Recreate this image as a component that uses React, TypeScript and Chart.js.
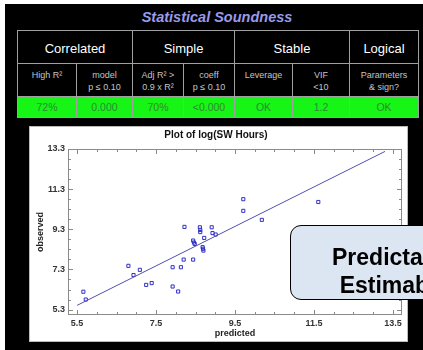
import React, { useEffect, useRef } from "react";
import { Chart, registerables } from "chart.js";

Chart.register(...registerables);

// ---------- data ----------
const panelTitle = "Statistical Soundness";
const groupHeaders = ["Correlated", "Simple", "Stable", "Logical"];
const groupSpans = [2, 2, 2, 1];
const criteria = [
  ["High R²"],
  ["model", "p ≤ 0.10"],
  ["Adj R² >", "0.9 x R²"],
  ["coeff", "p ≤ 0.10"],
  ["Leverage"],
  ["VIF", "<10"],
  ["Parameters", "& sign?"],
];
const results = ["72%", "0.000", "70%", "<0.000", "OK", "1.2", "OK"];

const plotTitle = "Plot of log(SW Hours)";
const xAxisTitle = "predicted";
const yAxisTitle = "observed";
const predicted = [5.66, 5.72, 6.8, 6.93, 7.09, 7.25, 7.39, 7.92, 7.92, 8.06, 8.13, 8.2, 8.44, 8.22, 8.44, 8.46, 8.48, 8.61, 8.62, 8.62, 8.68, 8.69, 8.7, 8.72, 8.91, 8.93, 9.01, 9.71, 9.71, 10.18, 11.61];
const observed = [6.19, 5.8, 7.48, 7.02, 7.28, 6.53, 6.62, 7.41, 6.45, 6.2, 7.41, 7.79, 7.79, 9.42, 8.74, 8.64, 8.57, 9.4, 9.27, 9.16, 8.41, 8.33, 8.24, 8.87, 9.4, 9.11, 9.04, 10.8, 10.22, 9.77, 10.66];
const fitX = [5.5, 13.3];
const fitY = [5.51, 13.18];
const xTicks = [5.5, 7.5, 9.5, 11.5, 13.5];
const yTicks = [5.3, 7.3, 9.3, 11.3, 13.3];
const minorStep = 0.5;
const calloutLines = ["Predictable", "Estimable"];

// ---------- layout ----------
const colEdges = [17, 76, 132, 183, 234, 292, 349, 418];
const rowEdges = [30, 63, 96, 117];
const FONT = '"Liberation Sans", Arial, Helvetica, sans-serif';
const GRID = "#a0a0a0";

const framePlugin = {
  id: "frameTicks",
  afterDatasetsDraw(chart: any) {
    const { ctx, chartArea: a, scales } = chart;
    const xs = scales.x;
    const ys = scales.y;
    ctx.save();
    ctx.strokeStyle = "#8a8a8a";
    ctx.lineWidth = 1;
    ctx.strokeRect(a.left + 0.5, a.top + 0.5, a.right - a.left - 1, a.bottom - a.top - 1);
    const isMajor = (v: number, majors: number[]) => majors.some((m) => Math.abs(m - v) < 1e-6);
    ctx.beginPath();
    for (let v = xTicks[0] - minorStep * 0; v <= xs.max + 1e-9; v += minorStep) {
      const len = isMajor(v, xTicks) ? 5 : 3;
      const px = Math.round(xs.getPixelForValue(v)) + 0.5;
      ctx.moveTo(px, a.bottom);
      ctx.lineTo(px, a.bottom - len);
      ctx.moveTo(px, a.top);
      ctx.lineTo(px, a.top + len);
    }
    for (let v = yTicks[0]; v <= ys.max + 1e-9; v += minorStep) {
      const len = isMajor(v, yTicks) ? 5 : 3;
      const py = Math.round(ys.getPixelForValue(v)) + 0.5;
      ctx.moveTo(a.left, py);
      ctx.lineTo(a.left + len, py);
      ctx.moveTo(a.right, py);
      ctx.lineTo(a.right - len, py);
    }
    ctx.stroke();
    ctx.restore();
  },
};

function ScatterPlot() {
  const ref = useRef<HTMLCanvasElement | null>(null);
  useEffect(() => {
    if (!ref.current) return;
    const chart = new Chart(ref.current, {
      type: "scatter",
      data: {
        datasets: [
          {
            type: "line",
            data: fitX.map((x, i) => ({ x, y: fitY[i] })),
            borderColor: "#5050a8",
            borderWidth: 1,
            pointRadius: 0,
            fill: false,
          } as any,
          {
            data: predicted.map((x, i) => ({ x, y: observed[i] })),
            pointStyle: "rect",
            pointRadius: 2.2,
            borderWidth: 1,
            borderColor: "#3030c8",
            backgroundColor: "rgba(0,0,0,0)",
          },
        ],
      },
      options: {
        animation: false,
        responsive: false,
        layout: { padding: { top: 0, right: 5, left: 0, bottom: 0 } },
        plugins: {
          legend: { display: false },
          tooltip: { enabled: false },
          title: {
            display: true,
            text: plotTitle,
            color: "#111",
            font: { family: FONT, size: 10, weight: "bold" },
            padding: { top: 2, bottom: 8 },
          },
        },
        scales: {
          x: {
            type: "linear",
            min: 5.27,
            max: 13.73,
            afterBuildTicks: (s: any) => {
              s.ticks = xTicks.map((v) => ({ value: v }));
            },
            afterFit: (s: any) => {
              s.height = 26;
            },
            grid: { display: false, drawTicks: false },
            border: { display: false },
            ticks: {
              padding: 3,
              color: "#333",
              font: { family: FONT, size: 9, weight: "bold" },
              callback: (v: any) => Number(v).toFixed(1),
            },
            title: {
              display: true,
              text: xAxisTitle,
              color: "#222",
              font: { family: FONT, size: 9, weight: "bold" },
              padding: { top: 0, bottom: 2 },
            },
          },
          y: {
            type: "linear",
            min: 5.03,
            max: 13.3,
            afterBuildTicks: (s: any) => {
              s.ticks = yTicks.map((v) => ({ value: v }));
            },
            afterFit: (s: any) => {
              s.width = 38;
            },
            grid: { display: false, drawTicks: false },
            border: { display: false },
            ticks: {
              padding: 3,
              color: "#333",
              font: { family: FONT, size: 9, weight: "bold" },
              callback: (v: any) => Number(v).toFixed(1),
            },
            title: {
              display: true,
              text: yAxisTitle,
              color: "#222",
              font: { family: FONT, size: 9, weight: "bold" },
              padding: { top: 5, bottom: 0 },
            },
          },
        },
      },
      plugins: [framePlugin],
    } as any);
    return () => chart.destroy();
  }, []);
  return <canvas ref={ref} width={377} height={214} style={{ position: "absolute", left: 0, top: 0, width: 377, height: 214 }} />;
}

function Cell(props: { x0: number; x1: number; y0: number; y1: number; bg?: string; children?: any; style?: any }) {
  const { x0, x1, y0, y1, bg, children, style } = props;
  return (
    <div
      style={{
        position: "absolute",
        left: x0,
        top: y0,
        width: x1 - x0,
        height: y1 - y0,
        boxSizing: "border-box",
        border: `1px solid ${GRID}`,
        background: bg || "transparent",
        textAlign: "center",
        fontFamily: FONT,
        ...style,
      }}
    >
      {children}
    </div>
  );
}

export default function App() {
  useEffect(() => {
    document.body.style.margin = "0";
  }, []);
  let gi = 0;
  const groups = groupHeaders.map((h, i) => {
    const start = gi;
    gi += groupSpans[i];
    return { h, x0: colEdges[start], x1: colEdges[gi] };
  });
  return (
    <div style={{ position: "fixed", left: 0, top: 0, width: 423, height: 350, overflow: "hidden", background: "#fff" }}>
      <div style={{ position: "absolute", left: 5, top: 4, width: 418, height: 346, background: "#000" }} />
      <div
        style={{
          position: "absolute",
          left: 0,
          top: 8,
          width: 434,
          textAlign: "center",
          fontFamily: FONT,
          fontSize: 14.5,
          fontWeight: "bold",
          fontStyle: "italic",
          color: "#9a9ae8",
          lineHeight: "18px",
        }}
      >
        {panelTitle}
      </div>
      {groups.map((g, i) => (
        <Cell key={"g" + i} x0={g.x0} x1={g.x1 + 1} y0={rowEdges[0]} y1={rowEdges[1] + 1} style={{ color: "#fff", fontSize: 13, lineHeight: "33px", paddingTop: 1 }}>
          {g.h}
        </Cell>
      ))}
      {criteria.map((c, i) => (
        <Cell key={"c" + i} x0={colEdges[i]} x1={colEdges[i + 1] + 1} y0={rowEdges[1]} y1={rowEdges[2] + 1} style={{ color: "#c4c4c4", fontSize: 9, lineHeight: "12px", paddingTop: 5 }}>
          {c.map((t, j) => (
            <div key={j}>{t}</div>
          ))}
        </Cell>
      ))}
      {results.map((r, i) => (
        <Cell key={"r" + i} x0={colEdges[i]} x1={colEdges[i + 1] + 1} y0={rowEdges[2]} y1={rowEdges[3] + 1} bg="#16f516" style={{ color: "#2f8a2f", fontSize: 10.5, lineHeight: "20px" }}>
          {r}
        </Cell>
      ))}
      <div style={{ position: "absolute", left: 30, top: 127, width: 377, height: 214, background: "#fff", boxShadow: "0 0 0 1px #bbb" }}>
        <ScatterPlot />
      </div>
      <div
        style={{
          position: "absolute",
          left: 290,
          top: 225,
          width: 208,
          height: 75,
          boxSizing: "border-box",
          background: "#dce6f2",
          border: "1.5px solid #000",
          borderRadius: 11,
          textAlign: "center",
          fontFamily: FONT,
          fontWeight: "bold",
          fontSize: 23,
          lineHeight: "28px",
          color: "#000",
          paddingTop: 17,
          whiteSpace: "nowrap",
        }}
      >
        {calloutLines.map((t, i) => (
          <div key={i}>{t}</div>
        ))}
      </div>
    </div>
  );
}
